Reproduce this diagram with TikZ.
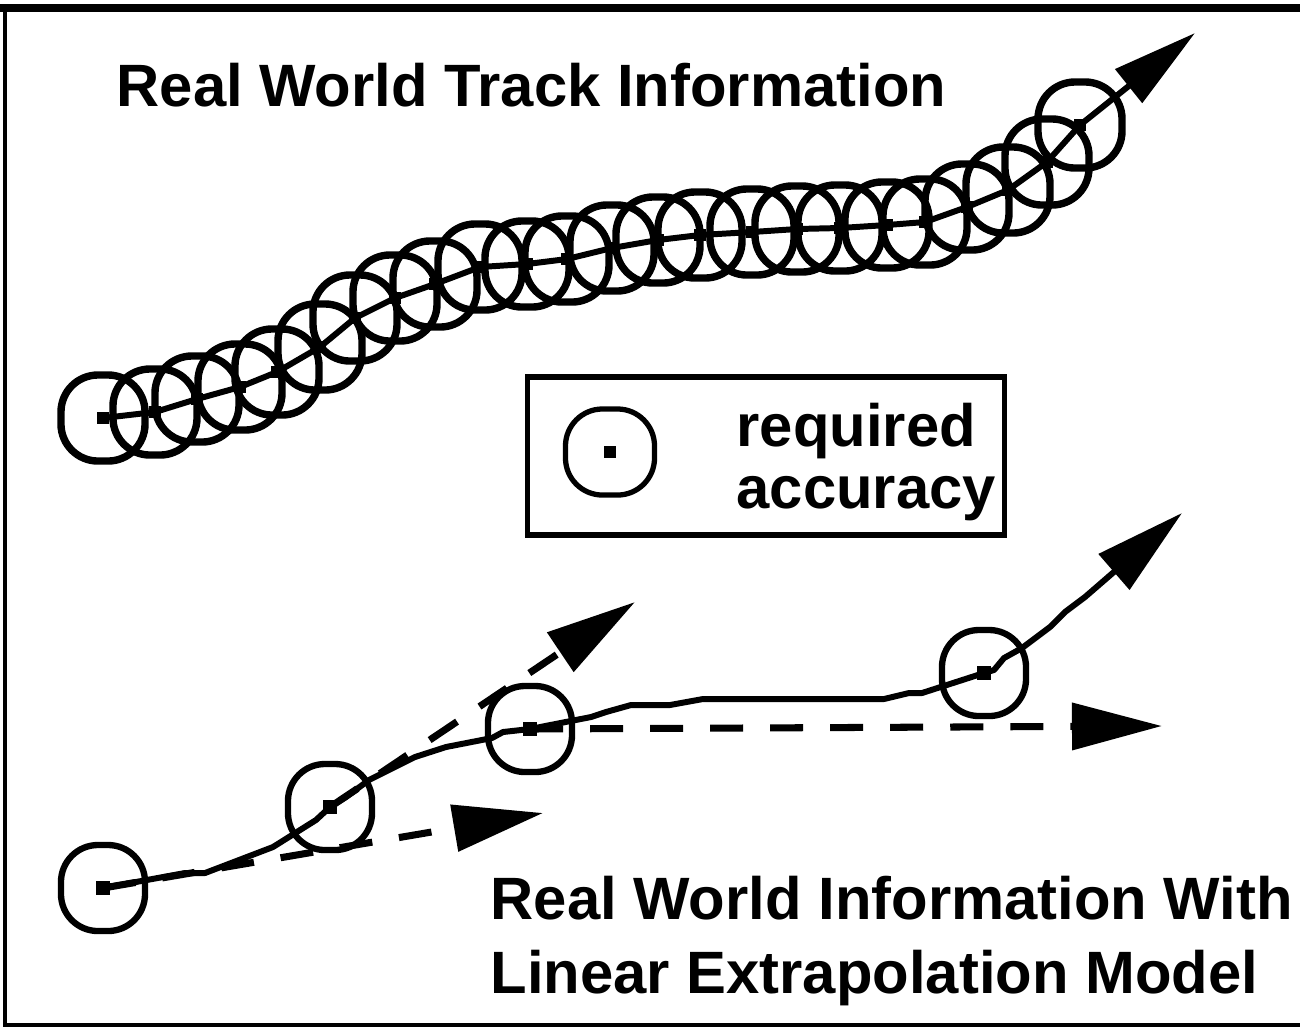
\documentclass[tikz,border=0pt]{standalone}
\usepackage{fontspec}
\setmainfont{Liberation Sans}
\usetikzlibrary{arrows.meta,positioning}
\tikzset{
  >={Triangle[length=9mm,width=4.6mm]},
  acc/.style={draw,rectangle,rounded corners=3.7mm,minimum width=8.4mm,minimum height=8.6mm,inner sep=0pt,line width=2.1pt},
  trk/.style={line width=1.7pt,line join=round},
  extra/.style={->,line width=2pt,dash pattern=on 3.3mm off 2.7mm},
  lbl/.style={font=\fontsize{17}{18}\selectfont\bfseries,inner sep=0pt,anchor=north west,align=left},
}
\begin{document}
\begin{tikzpicture}[x=0.01cm,y=-0.01cm]
\useasboundingbox (0,0) rectangle (1300,1029);
\draw[line width=1.3pt] (5,8) rectangle (1330,1025);
\draw[line width=2pt] (0,8) -- (1300,8);
% real world track
\foreach \p [count=\i] in {(103,418),(155,412),(197,399),(240,387),(277,372),(320,347),(355,318),(395,298),
  (435,284),(480,267),(527,264),(567,259),(612,248),(658,240),(700,235),(752,232),(797,229),(840,228),
  (887,225),(925,222),(967,207),(1008,190),(1047,162),(1080,125)}
  \node[acc] (rw\i) at \p {};
\coordinate (trkTip) at (1195,33);
\draw[trk] (rw1.center) \foreach \i in {2,...,24} { -- (rw\i.center) };
\draw[trk,-{Triangle[length=8.5mm,width=4.2mm]}] (rw24.center) -- (trkTip);
\foreach \i in {1,...,24} \fill (rw\i.center) +(-6,-6) rectangle +(6,6);
\node[lbl] (ttlTrack) at (116,62) {Real World Track Information};
% legend
\node[draw,line width=1.6pt,minimum width=4.77cm,minimum height=1.58cm,inner sep=0pt] (key) at (766,456) {};
\node[acc,line width=1.5pt,minimum width=8.9mm,minimum height=8.6mm] (keyAcc) at (610,452) {};
\fill (keyAcc.center) +(-6,-6) rectangle +(6,6);
\node[lbl,font=\fontsize{17}{17.9}\selectfont\bfseries] (keyText) at (736,402) {required\\accuracy};
% extrapolation model
\node[acc,line width=1.8pt] (ex1) at (103,888) {};
\node[acc,line width=1.8pt] (ex2) at (330,807) {};
\node[acc,line width=1.8pt] (ex3) at (530,729) {};
\node[acc,line width=1.8pt] (ex4) at (984,673) {};
\coordinate (modelTip) at (1182,513);
\draw[trk,->] (ex1.center) -- (185,873) -- (205,873) -- (273,847) -- (316,820) -- (ex2.center) -- (346,797)
  -- (369,780) -- (415,757) -- (446,747) -- (492,738) -- (503,732) -- (ex3.center) -- (591,717) -- (606,712)
  -- (631,705) -- (670,705) -- (703,699) -- (884,699) -- (909,693) -- (922,693) -- (ex4.center) -- (994,670)
  -- (1004,658) -- (1022,648) -- (1050,627) -- (1065,612) -- (1085,597) -- (modelTip);
\foreach \n in {ex1,ex2,ex3,ex4} \fill (\n.center) +(-7,-7) rectangle +(7,7);
\coordinate (tipA) at (543,813);
\coordinate (tipB) at (635,602);
\coordinate (tipC) at (1162,726);
\draw[extra] (ex1.center) -- (tipA);
\draw[extra] (ex2.center) -- (tipB);
\draw[extra] (ex3.center) -- (tipC);
\node[lbl,font=\fontsize{17}{18}\selectfont\bfseries] (ttlModel) at (490,875) {Real World Information With\\[3.3pt]Linear Extrapolation Model};
\end{tikzpicture}
\end{document}
